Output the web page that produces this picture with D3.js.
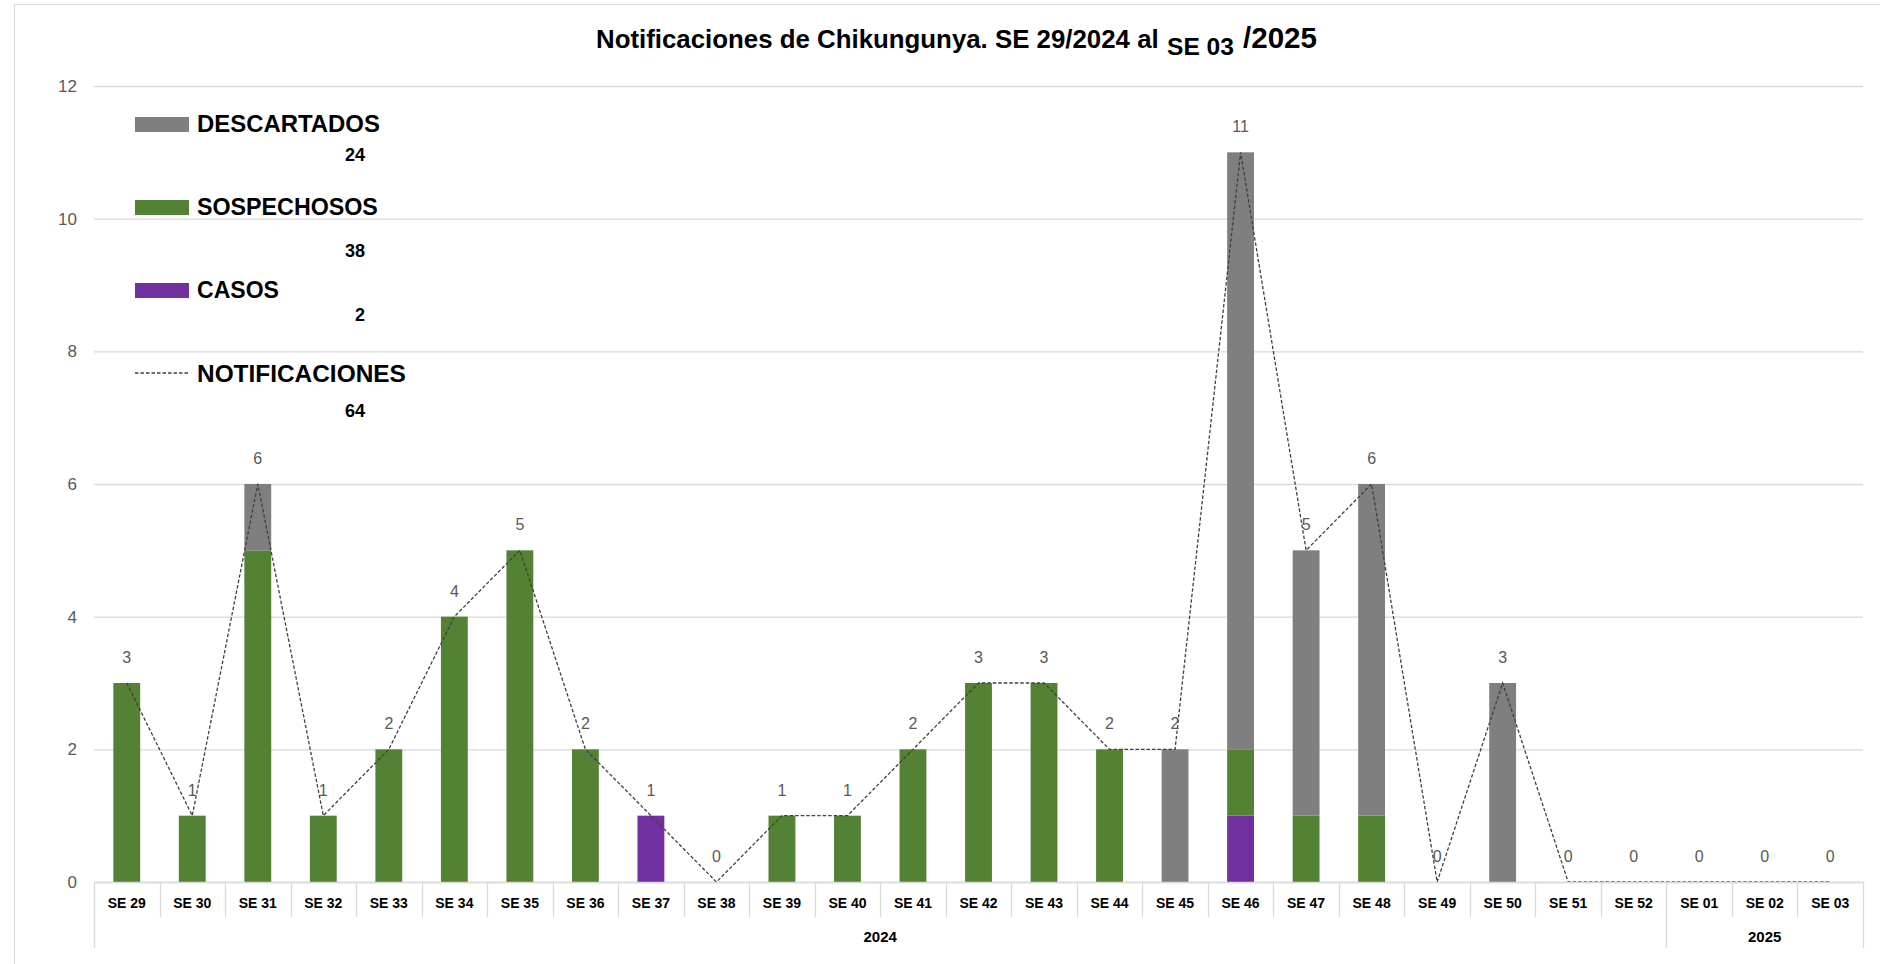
<!DOCTYPE html>
<html>
<head>
<meta charset="utf-8">
<script src="https://cdn.jsdelivr.net/npm/d3@7"></script>
<style>
  html, body { margin: 0; padding: 0; background: #fff; }
  svg { display: block; }
  text { font-family: "Liberation Sans", Arial, sans-serif; }
</style>
</head>
<body>
<svg id="chart" width="1880" height="964"></svg>
<script>
// ---------- DATA ----------
const weeks = ["SE 29","SE 30","SE 31","SE 32","SE 33","SE 34","SE 35","SE 36","SE 37","SE 38",
  "SE 39","SE 40","SE 41","SE 42","SE 43","SE 44","SE 45","SE 46","SE 47","SE 48",
  "SE 49","SE 50","SE 51","SE 52","SE 01","SE 02","SE 03"];
const years = ["2024","2025"];
const weekYear = ["2024","2024","2024","2024","2024","2024","2024","2024","2024","2024",
  "2024","2024","2024","2024","2024","2024","2024","2024","2024","2024",
  "2024","2024","2024","2024","2025","2025","2025"];
const casos =        [0,0,0,0,0,0,0,0,1,0, 0,0,0,0,0,0,0,1,0,0, 0,0,0,0,0,0,0];
const sospechosos =  [3,1,5,1,2,4,5,2,0,0, 1,1,2,3,3,2,0,1,1,1, 0,0,0,0,0,0,0];
const descartados =  [0,0,1,0,0,0,0,0,0,0, 0,0,0,0,0,0,2,9,4,5, 0,3,0,0,0,0,0];
const notificaciones=[3,1,6,1,2,4,5,2,1,0, 1,1,2,3,3,2,2,11,5,6, 0,3,0,0,0,0,0];
const yTicks = [0,2,4,6,8,10,12];
const seriesNames = ["CASOS","SOSPECHOSOS","DESCARTADOS"];
const seriesColors = ["#7030A0","#548235","#7F7F7F"];
const titleMain = "Notificaciones de Chikungunya. SE 29/2024 al";
const titleSub = "SE 03";
const titleEnd = "/2025";

// ---------- LAYOUT ----------
const svg = d3.select("#chart");
const pLeft = 94, pRight = 1863, pTop = 86, pBottom = 882;

// outer border
svg.append("rect").attr("x", 14.5).attr("y", 4.5).attr("width", 1880).attr("height", 1000)
  .attr("fill", "none").attr("stroke", "#d9d9d9").attr("stroke-width", 1);

const x = d3.scaleBand().domain(weeks).range([pLeft, pRight]).padding(0);
const y = d3.scaleLinear().domain([0, 12]).range([pBottom, pTop]);

// gridlines + y axis labels
const yAxis = d3.axisLeft(y).tickValues(yTicks).tickSize(-(pRight - pLeft)).tickPadding(17);
const gy = svg.append("g").attr("transform", `translate(${pLeft},0)`).call(yAxis);
gy.select(".domain").remove();
gy.selectAll(".tick line").attr("stroke", "#d9d9d9").attr("stroke-width", 1.3);
gy.selectAll(".tick text").attr("fill", "#595959").attr("font-size", 17)
  .attr("font-family", "Liberation Sans, Arial, sans-serif");

// stacked bars
const rows = weeks.map((w, i) => ({ week: w, CASOS: casos[i], SOSPECHOSOS: sospechosos[i], DESCARTADOS: descartados[i] }));
const stack = d3.stack().keys(seriesNames)(rows);
const barW = x.bandwidth() * 0.41;
const color = d3.scaleOrdinal().domain(seriesNames).range(seriesColors);
svg.append("g").selectAll("g").data(stack).join("g")
  .attr("fill", d => color(d.key))
  .selectAll("rect").data(d => d).join("rect")
  .attr("x", d => x(d.data.week) + (x.bandwidth() - barW) / 2)
  .attr("width", barW)
  .attr("y", d => y(d[1]))
  .attr("height", d => y(d[0]) - y(d[1]));

// notifications dashed line
const line = d3.line().x((d, i) => x(weeks[i]) + x.bandwidth() / 2).y(d => y(d));
svg.append("path").datum(notificaciones).attr("d", line)
  .attr("fill", "none").attr("stroke", "#404040").attr("stroke-width", 1.3)
  .attr("stroke-dasharray", "3.5,2");

// data labels
svg.append("g").selectAll("text").data(notificaciones).join("text")
  .attr("x", (d, i) => x(weeks[i]) + x.bandwidth() / 2)
  .attr("y", d => y(d) - 20)
  .attr("text-anchor", "middle")
  .attr("font-size", 16).attr("fill", "#595959")
  .text(d => d);

// category axis (multi-level)
const gx = svg.append("g");
gx.append("line").attr("x1", pLeft).attr("x2", pRight).attr("y1", pBottom + 0.5).attr("y2", pBottom + 0.5)
  .attr("stroke", "#d9d9d9").attr("stroke-width", 1.3);
const bounds = weeks.map(w => x(w)).concat([pRight]);
gx.selectAll("line.sep").data(bounds).join("line").attr("class", "sep")
  .attr("x1", d => Math.round(d) + 0.5).attr("x2", d => Math.round(d) + 0.5)
  .attr("y1", pBottom).attr("y2", (d, i) => {
    const isEdge = i === 0 || i === weeks.length || weekYear[i] !== weekYear[i - 1];
    return isEdge ? 948 : 917;
  })
  .attr("stroke", "#d9d9d9").attr("stroke-width", 1.3);
gx.selectAll("text.wk").data(weeks).join("text").attr("class", "wk")
  .attr("x", d => x(d) + x.bandwidth() / 2).attr("y", 908)
  .attr("text-anchor", "middle").attr("font-size", 14).attr("font-weight", "bold")
  .attr("fill", "#000").text(d => d);
gx.selectAll("text.yr").data(years).join("text").attr("class", "yr")
  .attr("x", yr => {
    const ws = weeks.filter((w, i) => weekYear[i] === yr);
    return (x(ws[0]) + x(ws[ws.length - 1]) + x.bandwidth()) / 2;
  })
  .attr("y", 942).attr("text-anchor", "middle").attr("font-size", 15).attr("font-weight", "bold")
  .attr("fill", "#000").text(d => d);

// helper: fit text to a width
function fit(sel, width) {
  const w = sel.node().getComputedTextLength();
  const fs = parseFloat(sel.attr("font-size"));
  sel.attr("font-size", fs * width / w);
}

// title
const t1 = svg.append("text").attr("x", 596).attr("y", 48).attr("font-size", 24)
  .attr("font-weight", "bold").attr("fill", "#000").text(titleMain);
fit(t1, 563);
const t2 = svg.append("text").attr("x", 1167).attr("y", 55).attr("font-size", 24)
  .attr("font-weight", "bold").attr("fill", "#000").text(titleSub);
fit(t2, 67);
const t3 = svg.append("text").attr("x", 1243).attr("y", 48).attr("font-size", 24)
  .attr("font-weight", "bold").attr("fill", "#000").text(titleEnd);
fit(t3, 74);

// legend
const totals = [d3.sum(descartados), d3.sum(sospechosos), d3.sum(casos), d3.sum(notificaciones)];
const legNames = ["DESCARTADOS","SOSPECHOSOS","CASOS","NOTIFICACIONES"];
const legColors = ["#7F7F7F","#548235","#7030A0", null];
const legBase = [132, 215, 298, 382];
const legNumBase = [161, 257, 321, 417];
const legWidths = [183, 181, 82, 209];
const lg = svg.append("g");
legNames.forEach((n, i) => {
  if (legColors[i]) {
    lg.append("rect").attr("x", 135).attr("y", legBase[i] - 15).attr("width", 54).attr("height", 15)
      .attr("fill", legColors[i]);
  } else {
    lg.append("line").attr("x1", 135).attr("x2", 189).attr("y1", legBase[i] - 9).attr("y2", legBase[i] - 9)
      .attr("stroke", "#404040").attr("stroke-width", 1.3).attr("stroke-dasharray", "3.5,2");
  }
  const t = lg.append("text").attr("x", 197).attr("y", legBase[i]).attr("font-size", 24)
    .attr("font-weight", "bold").attr("fill", "#000").text(n);
  fit(t, legWidths[i]);
  lg.append("text").attr("x", 365).attr("y", legNumBase[i]).attr("text-anchor", "end")
    .attr("font-size", 18).attr("font-weight", "bold").attr("fill", "#000").text(totals[i]);
});
</script>
</body>
</html>
